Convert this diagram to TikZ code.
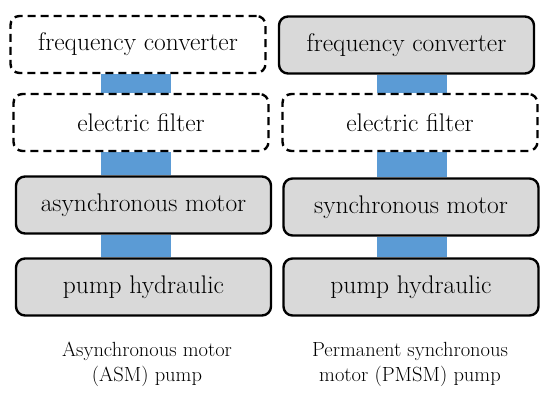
\documentclass[tikz,border=0pt]{standalone}
\usepackage{fontspec}
\usetikzlibrary{backgrounds}
\definecolor{linkblue}{RGB}{91,155,213}
\definecolor{boxgray}{RGB}{217,217,217}
\tikzset{
  blk/.style={rounded corners=9pt, line width=2.4pt, minimum width=255pt, minimum height=57pt, inner sep=0pt, font=\fontsize{25.5}{30}\selectfont},
  solidbox/.style={blk, draw=black, fill=boxgray},
  dashbox/.style={blk, draw=black, fill=white, dash pattern=on 8pt off 5pt},
  link/.style={draw=linkblue, line width=70pt},
  captext/.style={align=center, font=\fontsize{20.5}{25}\selectfont}
}
\begin{document}
\begin{tikzpicture}[x=1pt,y=-1pt]
\useasboundingbox (0,0) rectangle (550,401);
\coordinate (colL) at (136,0);
\coordinate (colR) at (412,0);
% left
\node[dashbox] (lf) at (138,44.5) {frequency converter};
\node[dashbox] (le) at (141,122.5) {electric filter};
\node[solidbox] (lm) at (143.5,205) {asynchronous motor};
\node[solidbox] (lp) at (143.5,287) {pump hydraulic};
% right
\node[solidbox] (rf) at (406.5,45) {frequency converter};
\node[dashbox] (re) at (410,122.5) {electric filter};
\node[solidbox] (rm) at (411,207) {synchronous motor};
\node[solidbox] (rp) at (411,287) {pump hydraulic};
\begin{scope}[on background layer]
\draw[link] (lf.south -| colL) -- (le.north -| colL);
\draw[link] (le.south -| colL) -- (lm.north -| colL);
\draw[link] (lm.south -| colL) -- (lp.north -| colL);
\draw[link] (rf.south -| colR) -- (re.north -| colR);
\draw[link] (re.south -| colR) -- (rm.north -| colR);
\draw[link] (rm.south -| colR) -- (rp.north -| colR);
\end{scope}
\node[captext] (lc) at (147,364) {Asynchronous motor\\(ASM) pump};
\node[captext] (rc) at (410,364) {Permanent synchronous\\motor (PMSM) pump};
\end{tikzpicture}
\end{document}
